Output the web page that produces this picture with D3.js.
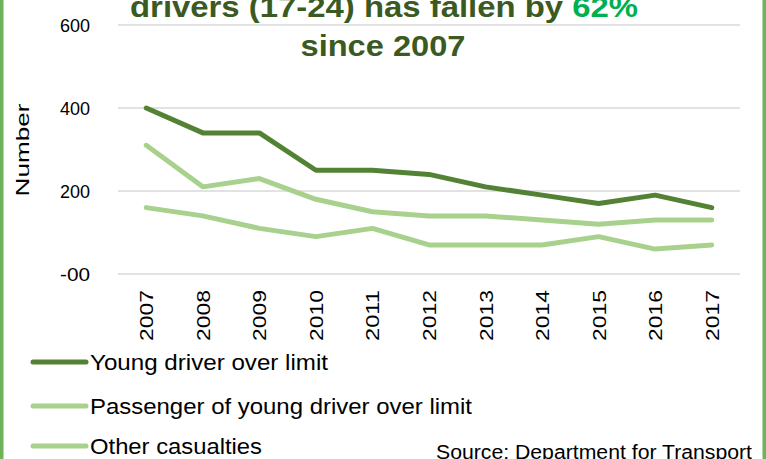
<!DOCTYPE html>
<html>
<head>
<meta charset="utf-8">
<script src="https://cdn.jsdelivr.net/npm/d3@7"></script>
<style>
  html, body { margin: 0; padding: 0; background: #fff; }
  svg { display: block; font-family: "Liberation Sans", Arial, sans-serif; }
</style>
</head>
<body>
<svg id="chart" width="766" height="459"></svg>
<script>
const years = ["2007","2008","2009","2010","2011","2012","2013","2014","2015","2016","2017"];
const youngDriver = [400, 340, 340, 250, 250, 240, 210, 190, 170, 190, 160];
const passenger = [310, 210, 230, 180, 150, 140, 140, 130, 120, 130, 130];
const otherCasualties = [160, 140, 110, 90, 110, 70, 70, 70, 90, 60, 70];
const yTicks = [0, 200, 400, 600];
const yTickLabels = ["-00", "200", "400", "600"];
const seriesNames = ["Young driver over limit", "Passenger of young driver over limit", "Other casualties"];
const titleLine1 = "drivers (17-24) has fallen by ";
const titleHighlight = "62%";
const titleLine2 = "since 2007";
const sourceText = "Source: Department for Transport";
const axisTitle = "Number";

const series = [
  { name: seriesNames[0], values: youngDriver, color: "#548235" },
  { name: seriesNames[1], values: passenger, color: "#A9D18E" },
  { name: seriesNames[2], values: otherCasualties, color: "#A9D18E" }
];

const svg = d3.select("#chart");
const W = 766, H = 459;

// frame borders
svg.append("rect").attr("x", 0).attr("y", 0).attr("width", 3.5).attr("height", H).attr("fill", "#6CB35A");
svg.append("rect").attr("x", 762.5).attr("y", 0).attr("width", 3.5).attr("height", H).attr("fill", "#6CB35A");

const x = d3.scaleBand().domain(years).range([118, 740]).padding(0);
const y = d3.scaleLinear().domain([0, 600]).range([274, 25]);

// gridlines
svg.append("g").selectAll("line").data(yTicks).join("line")
  .attr("x1", 118).attr("x2", 740)
  .attr("y1", d => y(d)).attr("y2", d => y(d))
  .attr("stroke", "#D9D9D9").attr("stroke-width", 1.5);

// y tick labels
svg.append("g").selectAll("text").data(yTicks).join("text")
  .attr("x", 90).attr("y", d => y(d)).attr("dy", "0.36em")
  .attr("text-anchor", "end")
  .attr("font-size", 19).attr("fill", "#000")
  .attr("textLength", 30).attr("lengthAdjust", "spacingAndGlyphs")
  .text((d, i) => yTickLabels[i]);

// x tick labels (rotated)
svg.append("g").selectAll("text").data(years).join("text")
  .attr("transform", d => `translate(${x(d) + x.bandwidth() / 2 + 7},341) rotate(-90)`)
  .attr("text-anchor", "start")
  .attr("font-size", 18.5).attr("fill", "#000")
  .attr("textLength", 51).attr("lengthAdjust", "spacingAndGlyphs")
  .text(d => d);

// axis title
svg.append("text")
  .attr("transform", "translate(29,150) rotate(-90)")
  .attr("text-anchor", "middle")
  .attr("font-size", 19).attr("fill", "#000")
  .attr("textLength", 93).attr("lengthAdjust", "spacingAndGlyphs")
  .text(axisTitle);

// lines (draw light first, dark on top)
const line = d3.line()
  .x((d, i) => x(years[i]) + x.bandwidth() / 2)
  .y(d => y(d));

svg.append("g").selectAll("path").data(series.slice().reverse()).join("path")
  .attr("d", d => line(d.values))
  .attr("fill", "none")
  .attr("stroke", d => d.color)
  .attr("stroke-width", 5)
  .attr("stroke-linejoin", "round")
  .attr("stroke-linecap", "round");

// title
const t1 = svg.append("text")
  .attr("x", 384).attr("y", 17)
  .attr("text-anchor", "middle")
  .attr("font-size", 29).attr("font-weight", "bold").attr("fill", "#3A5A22")
  .attr("textLength", 508).attr("lengthAdjust", "spacingAndGlyphs");
t1.append("tspan").text(titleLine1);
t1.append("tspan").attr("fill", "#00B050").text(titleHighlight);

svg.append("text")
  .attr("x", 383).attr("y", 56)
  .attr("text-anchor", "middle")
  .attr("font-size", 29).attr("font-weight", "bold").attr("fill", "#3A5A22")
  .attr("textLength", 165).attr("lengthAdjust", "spacingAndGlyphs")
  .text(titleLine2);

// legend
const legendY = [362, 406, 446];
const legendLen = [238, 382, 172];
const lg = svg.append("g").selectAll("g").data(series).join("g")
  .attr("transform", (d, i) => `translate(0,${legendY[i]})`);
lg.append("line")
  .attr("x1", 33).attr("x2", 86).attr("y1", 0).attr("y2", 0)
  .attr("stroke", d => d.color).attr("stroke-width", 5).attr("stroke-linecap", "round");
lg.append("text")
  .attr("x", 90).attr("y", 0).attr("dy", "0.36em")
  .attr("font-size", 22).attr("fill", "#000")
  .attr("textLength", (d, i) => legendLen[i]).attr("lengthAdjust", "spacingAndGlyphs")
  .text(d => d.name);

// source
svg.append("text")
  .attr("x", 436).attr("y", 459)
  .attr("font-size", 19.5).attr("fill", "#000")
  .attr("textLength", 316).attr("lengthAdjust", "spacingAndGlyphs")
  .text(sourceText);
</script>
</body>
</html>
